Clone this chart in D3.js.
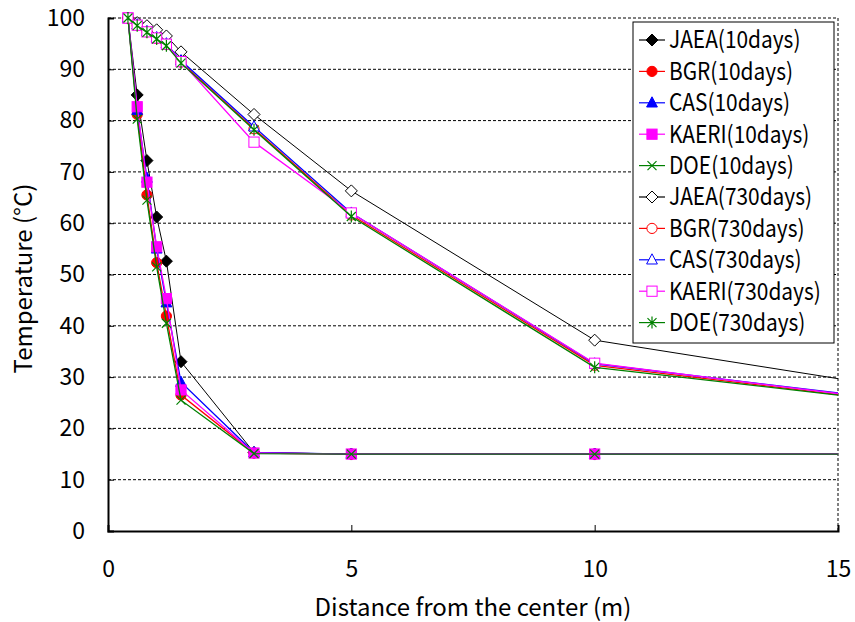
<!DOCTYPE html>
<html>
<head>
<meta charset="utf-8">
<script src="https://cdn.jsdelivr.net/npm/d3@7"></script>
<style>
  body { margin: 0; background: #fff; }
  text { font-family: "Noto Sans CJK JP", "Noto Sans", sans-serif; fill: #000; }
</style>
</head>
<body>
<div id="chart"></div>
<script>
// distance from the center (m)
const distance = [0.41, 0.6, 0.8, 1.0, 1.2, 1.5, 3, 5, 10, 15];

// temperature (°C), 10 days
const jaea10  = [100, 85.0, 72.2, 61.2, 52.6, 33.0, 15.3, 15.0, 15.0, 15.0];
const bgr10   = [100, 81.2, 65.5, 52.3, 41.9, 26.5, 15.2, 15.0, 15.0, 15.0];
const cas10   = [100, 82.0, 68.8, 55.0, 44.5, 29.0, 15.3, 15.0, 15.0, 15.0];
const kaeri10 = [100, 82.7, 68.0, 55.4, 45.3, 27.5, 15.2, 15.0, 15.0, 15.0];
const doe10   = [100, 80.3, 64.5, 51.5, 40.5, 25.5, 15.1, 15.0, 15.0, 15.0];

// temperature (°C), 730 days
const jaea730  = [100, 99.1, 98.5, 97.7, 96.5, 93.4, 81.2, 66.3, 37.2, 29.7];
const bgr730   = [100, 98.6, 97.3, 96.0, 94.8, 91.4, 78.4, 61.6, 32.3, 26.6];
const cas730   = [100, 98.7, 97.4, 96.2, 95.0, 91.7, 78.8, 62.0, 32.6, 26.9];
const kaeri730 = [100, 98.6, 97.3, 96.1, 94.9, 91.5, 75.8, 62.0, 32.7, 26.8];
const doe730   = [100, 98.5, 97.2, 95.9, 94.6, 91.2, 78.2, 61.3, 31.9, 26.5];

const xTicks = [0, 5, 10, 15];
const yTicks = [0, 10, 20, 30, 40, 50, 60, 70, 80, 90, 100];

const series = [
  {name: "JAEA(10days)",   values: jaea10,   color: "#000000", marker: "diamond",  filled: true},
  {name: "BGR(10days)",    values: bgr10,    color: "#ff0000", marker: "circle",   filled: true},
  {name: "CAS(10days)",    values: cas10,    color: "#0000ff", marker: "triangle", filled: true},
  {name: "KAERI(10days)",  values: kaeri10,  color: "#ff00ff", marker: "square",   filled: true},
  {name: "DOE(10days)",    values: doe10,    color: "#008000", marker: "x",        filled: true},
  {name: "JAEA(730days)",  values: jaea730,  color: "#000000", marker: "diamond",  filled: false},
  {name: "BGR(730days)",   values: bgr730,   color: "#ff0000", marker: "circle",   filled: false},
  {name: "CAS(730days)",   values: cas730,   color: "#0000ff", marker: "triangle", filled: false},
  {name: "KAERI(730days)", values: kaeri730, color: "#ff00ff", marker: "square",   filled: false},
  {name: "DOE(730days)",   values: doe730,   color: "#008000", marker: "star",     filled: false}
];

const width = 855, height = 622;
const margin = {left: 108, right: 17, top: 18, bottom: 91};

const svg = d3.select("#chart").append("svg")
  .attr("width", width)
  .attr("height", height);

const x = d3.scaleLinear().domain([0, 15]).range([margin.left, width - margin.right]);
const y = d3.scaleLinear().domain([0, 100]).range([height - margin.bottom, margin.top]);

// gridlines
svg.append("g")
  .selectAll("line")
  .data(yTicks.filter(d => d > 0))
  .join("line")
  .attr("x1", x(0))
  .attr("x2", x(15))
  .attr("y1", d => y(d))
  .attr("y2", d => y(d))
  .attr("stroke", "#000")
  .attr("stroke-width", 1)
  .attr("stroke-dasharray", "3,2");

// right edge of plot area
svg.append("line")
  .attr("x1", x(15)).attr("x2", x(15))
  .attr("y1", y(100)).attr("y2", y(0))
  .attr("stroke", "#000")
  .attr("stroke-width", 1)
  .attr("stroke-dasharray", "3,2");

// axes
const xAxis = svg.append("g")
  .attr("transform", `translate(0,${y(0)})`)
  .call(d3.axisBottom(x).tickValues(xTicks).tickSize(-6).tickPadding(30).tickFormat(d3.format("d")));
const yAxis = svg.append("g")
  .attr("transform", `translate(${x(0)},0)`)
  .call(d3.axisLeft(y).tickValues(yTicks).tickSize(-6).tickPadding(23).tickFormat(d3.format("d")));

[xAxis, yAxis].forEach(g => {
  g.select(".domain").attr("stroke", "#000").attr("stroke-width", 2);
  g.selectAll(".tick line").attr("stroke", "#000").attr("stroke-width", 1);
  g.selectAll(".tick text").attr("font-size", 23).attr("font-family", "Noto Sans CJK JP").attr("fill", "#000");
});
xAxis.selectAll(".tick line").filter(d => d === 0).remove();

svg.append("text")
  .attr("x", (x(0) + x(15)) / 2)
  .attr("y", 616)
  .attr("text-anchor", "middle")
  .attr("font-size", 24)
  .text("Distance from the center (m)");

svg.append("text")
  .attr("transform", `translate(32,${(y(0) + y(100)) / 2 + 4}) rotate(-90)`)
  .attr("text-anchor", "middle")
  .attr("font-size", 24)
  .text("Temperature (°C)");

function drawMarker(g, type, color, filled, s) {
  const fill = filled ? color : "#fff";
  if (type === "diamond") {
    g.append("path").attr("d", `M0,${-s}L${s},0L0,${s}L${-s},0Z`)
      .attr("fill", fill).attr("stroke", color).attr("stroke-width", 1);
  } else if (type === "circle") {
    g.append("circle").attr("r", s * 0.85)
      .attr("fill", fill).attr("stroke", color).attr("stroke-width", 1);
  } else if (type === "triangle") {
    g.append("path").attr("d", `M0,${-s}L${s * 0.9},${s * 0.7}L${-s * 0.9},${s * 0.7}Z`)
      .attr("fill", fill).attr("stroke", color).attr("stroke-width", 1);
  } else if (type === "square") {
    const h = s * 0.85;
    g.append("rect").attr("x", -h).attr("y", -h).attr("width", 2 * h).attr("height", 2 * h)
      .attr("fill", fill).attr("stroke", color).attr("stroke-width", 1);
  } else if (type === "x" || type === "star") {
    const h = s * 0.75;
    let d = `M${-h},${-h}L${h},${h}M${-h},${h}L${h},${-h}`;
    if (type === "star") d += `M0,${-s}L0,${s}`;
    g.append("path").attr("d", d).attr("fill", "none").attr("stroke", color).attr("stroke-width", 1.2);
  }
}

const line = d3.line()
  .x((d, i) => x(distance[i]))
  .y(d => y(d));

series.forEach(s => {
  const g = svg.append("g");
  g.append("path")
    .attr("d", line(s.values))
    .attr("fill", "none")
    .attr("stroke", s.color)
    .attr("stroke-width", s.color === "#000000" ? 1 : 1.3);
  s.values.forEach((v, i) => {
    if (distance[i] >= 15) return;
    const m = g.append("g").attr("transform", `translate(${x(distance[i])},${y(v)})`);
    drawMarker(m, s.marker, s.color, s.filled, 6);
  });
});

// legend
const legend = svg.append("g").attr("transform", "translate(633,22)");
legend.append("rect")
  .attr("width", 201)
  .attr("height", 321)
  .attr("fill", "#fff")
  .attr("stroke", "#000")
  .attr("stroke-width", 1);

series.forEach((s, i) => {
  const row = legend.append("g").attr("transform", `translate(0,${18 + i * 31.4})`);
  row.append("line")
    .attr("x1", 6).attr("x2", 32)
    .attr("stroke", s.color).attr("stroke-width", 1.2);
  const m = row.append("g").attr("transform", "translate(19,0)");
  drawMarker(m, s.marker, s.color, s.filled, 6);
  row.append("text")
    .attr("transform", "translate(36,0) scale(0.87,1)")
    .attr("dy", "0.35em")
    .attr("font-size", 24)
    .text(s.name);
});
</script>
</body>
</html>
